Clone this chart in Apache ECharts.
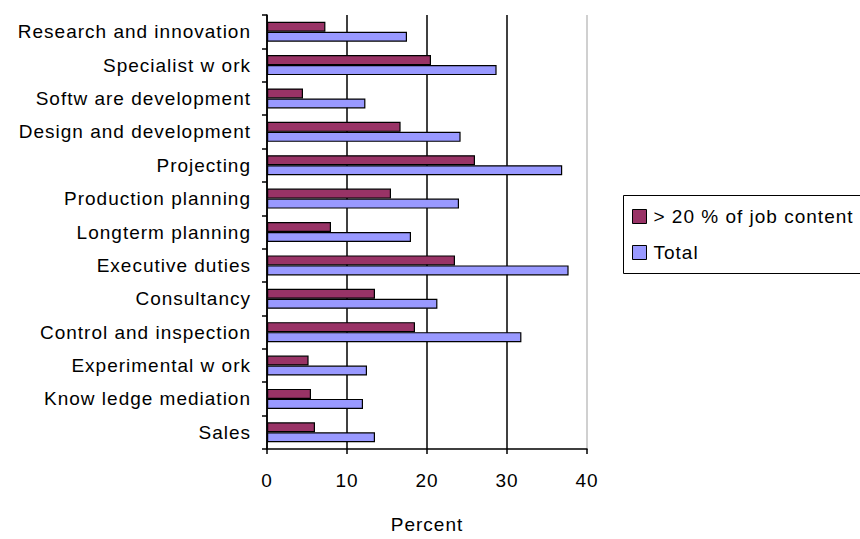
<!DOCTYPE html>
<html>
<head>
<meta charset="utf-8">
<script src="https://cdn.jsdelivr.net/npm/echarts@6/dist/echarts.min.js"></script>
<style>
  html, body { margin: 0; padding: 0; background: #fff; }
  #chart { width: 860px; height: 539px; }
  /* the original text is set loosely */
  #chart text { letter-spacing: 1px; }
</style>
</head>
<body>
<div id="chart"></div>
<script>
var categories = ['Research and innovation', 'Specialist w ork', 'Softw are development',
  'Design and development', 'Projecting', 'Production planning', 'Longterm planning',
  'Executive duties', 'Consultancy', 'Control and inspection', 'Experimental w ork',
  'Know ledge mediation', 'Sales'];
var over20 = [7.3, 20.5, 4.5, 16.7, 26.0, 15.5, 8.0, 23.5, 13.5, 18.5, 5.2, 5.5, 6.0];
var total = [17.5, 28.7, 12.3, 24.2, 36.9, 24.0, 18.0, 37.7, 21.3, 31.8, 12.5, 12.0, 13.5];

var font = 'Liberation Sans, Arial, sans-serif';
var chart = echarts.init(document.getElementById('chart'), null, { renderer: 'svg' });
chart.setOption({
  animation: false,
  textStyle: { fontFamily: font },
  grid: { left: 267, right: 273, top: 15, bottom: 84, containLabel: false },
  // legend frame runs off the right edge of the picture, like the original
  graphic: [{
    type: 'rect',
    shape: { x: 623.5, y: 195.5, width: 260, height: 78 },
    style: { fill: 'none', stroke: '#000', lineWidth: 1 }
  }],
  legend: {
    orient: 'vertical',
    left: 623,
    top: 195,
    padding: [12, 10, 10, 9],
    itemGap: 17,
    itemWidth: 14,
    itemHeight: 14,
    textStyle: { fontSize: 19, color: '#000', fontFamily: font, padding: [0, 0, 0, 2] },
    data: [
      { name: '> 20 % of job content', icon: 'rect', itemStyle: { borderColor: '#000', borderWidth: 1 } },
      { name: 'Total', icon: 'rect', itemStyle: { borderColor: '#000', borderWidth: 1 } }
    ]
  },
  xAxis: {
    type: 'value',
    min: 0,
    max: 40,
    interval: 10,
    name: 'Percent',
    nameLocation: 'middle',
    nameGap: 66,
    nameTextStyle: { fontSize: 19, color: '#000', fontFamily: font },
    axisLine: { show: true, lineStyle: { color: '#000', width: 1.5 } },
    axisTick: { show: true, length: 5, lineStyle: { color: '#000', width: 1.5 } },
    axisLabel: { fontSize: 19, color: '#000', margin: 22, fontFamily: font },
    splitLine: { show: true, lineStyle: { color: ['#000', '#000', '#000', '#000', '#c0c0c0'], width: 1.5 } }
  },
  yAxis: {
    type: 'category',
    inverse: true,
    data: categories,
    axisLine: { show: true, lineStyle: { color: '#000', width: 1.5 } },
    axisTick: { show: true, length: 5, lineStyle: { color: '#000', width: 1.5 } },
    axisLabel: { fontSize: 19, color: '#000', margin: 16, fontFamily: font }
  },
  series: [
    {
      name: '> 20 % of job content',
      type: 'bar',
      data: over20,
      barWidth: 10,
      barGap: '0%',
      itemStyle: { color: '#993366', borderColor: '#000', borderWidth: 1.2 }
    },
    {
      name: 'Total',
      type: 'bar',
      data: total,
      barWidth: 10,
      barGap: '0%',
      itemStyle: { color: '#9999ff', borderColor: '#000', borderWidth: 1.2 }
    }
  ]
});
</script>
</body>
</html>
